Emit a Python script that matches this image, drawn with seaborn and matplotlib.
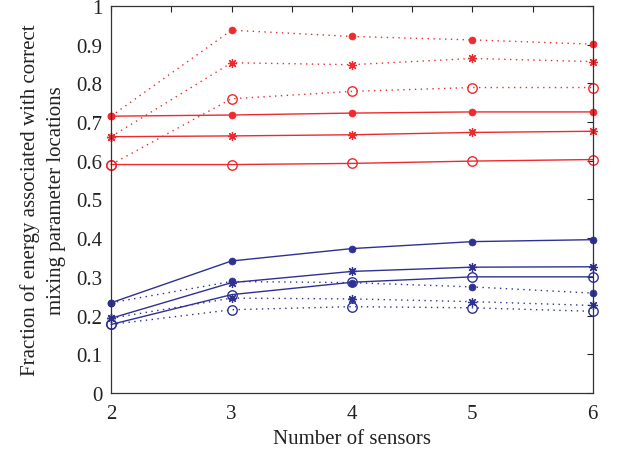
import matplotlib
matplotlib.use("Agg")
import matplotlib.pyplot as plt
import seaborn as sns
import pandas as pd

sensors = [2, 3, 4, 5, 6]

red_solid_filled = [0.715, 0.718, 0.723, 0.726, 0.726]
red_solid_star = [0.662, 0.664, 0.667, 0.673, 0.676]
red_solid_open = [0.590, 0.590, 0.593, 0.599, 0.603]
red_dot_filled = [0.715, 0.937, 0.921, 0.912, 0.901]
red_dot_star = [0.662, 0.853, 0.848, 0.864, 0.856]
red_dot_open = [0.590, 0.760, 0.779, 0.789, 0.789]

blue_solid_filled = [0.233, 0.341, 0.373, 0.391, 0.396]
blue_solid_star = [0.193, 0.285, 0.314, 0.325, 0.326]
blue_solid_open = [0.177, 0.254, 0.286, 0.300, 0.300]
blue_dot_filled = [0.233, 0.288, 0.285, 0.274, 0.258]
blue_dot_star = [0.193, 0.245, 0.243, 0.236, 0.226]
blue_dot_open = [0.177, 0.215, 0.223, 0.220, 0.211]

xtick_pos = [2, 2.5, 3, 3.5, 4, 4.5, 5, 5.5, 6]
xtick_labels = ["2", "", "3", "", "4", "", "5", "", "6"]
ytick_pos = [0, 0.1, 0.2, 0.3, 0.4, 0.5, 0.6, 0.7, 0.8, 0.9, 1.0]
ytick_labels = ["0", "0.1", "0.2", "0.3", "0.4", "0.5", "0.6", "0.7", "0.8", "0.9", "1"]

RED = "#ee2a2e"
BLUE = "#2e3192"

sns.set_style("white")
plt.rcParams["font.family"] = ["Liberation Serif", "DejaVu Serif"]

fig = plt.figure(figsize=(6.24, 4.56), dpi=100)
ax = fig.add_axes([0.178, 0.136, 0.772, 0.849])

series = [
    (red_dot_filled, RED, "dot", "filled"),
    (red_dot_star, RED, "dot", "star"),
    (red_dot_open, RED, "dot", "open"),
    (red_solid_filled, RED, "solid", "filled"),
    (red_solid_star, RED, "solid", "star"),
    (red_solid_open, RED, "solid", "open"),
    (blue_dot_filled, BLUE, "dot", "filled"),
    (blue_dot_star, BLUE, "dot", "star"),
    (blue_dot_open, BLUE, "dot", "open"),
    (blue_solid_filled, BLUE, "solid", "filled"),
    (blue_solid_star, BLUE, "solid", "star"),
    (blue_solid_open, BLUE, "solid", "open"),
]

for vals, col, ls, mk in series:
    df = pd.DataFrame({"x": sensors, "y": vals})
    linestyle = "-" if ls == "solid" else (0, (1, 3.2))
    kw = dict(color=col, linewidth=1.0, linestyle=linestyle, clip_on=False)
    if mk == "filled":
        kw.update(marker="o", markersize=5, markeredgewidth=0.5,
                  markerfacecolor=col, markeredgecolor=col)
    elif mk == "star":
        kw.update(marker=(8, 2, 0), markersize=6.5, markeredgewidth=0.9,
                  markeredgecolor=col)
    else:
        kw.update(marker="o", markersize=6.8, markeredgewidth=1.0,
                  markerfacecolor="none", markeredgecolor=col)
    sns.lineplot(data=df, x="x", y="y", ax=ax, legend=False, **kw)

ax.set_xlim(2, 6)
ax.set_ylim(0, 1)
ax.set_xticks(xtick_pos)
ax.set_xticklabels(xtick_labels)
ax.set_yticks(ytick_pos)
ax.set_yticklabels(ytick_labels)
ax.tick_params(direction="in", length=4, width=0.8, top=True, right=True,
               labelsize=15, colors="#222222", pad=6)
ax.tick_params(axis="x", pad=8)
for s in ax.spines.values():
    s.set_color("#333333")
    s.set_linewidth(0.9)
ax.set_xlabel("Number of sensors", fontsize=15, color="#222222", labelpad=4)
ax.set_ylabel("Fraction of energy associated with correct\nmixing parameter locations",
              fontsize=15, color="#222222", labelpad=8, linespacing=1.45)
ax.grid(False)

fig.savefig("out.png", dpi=100)
